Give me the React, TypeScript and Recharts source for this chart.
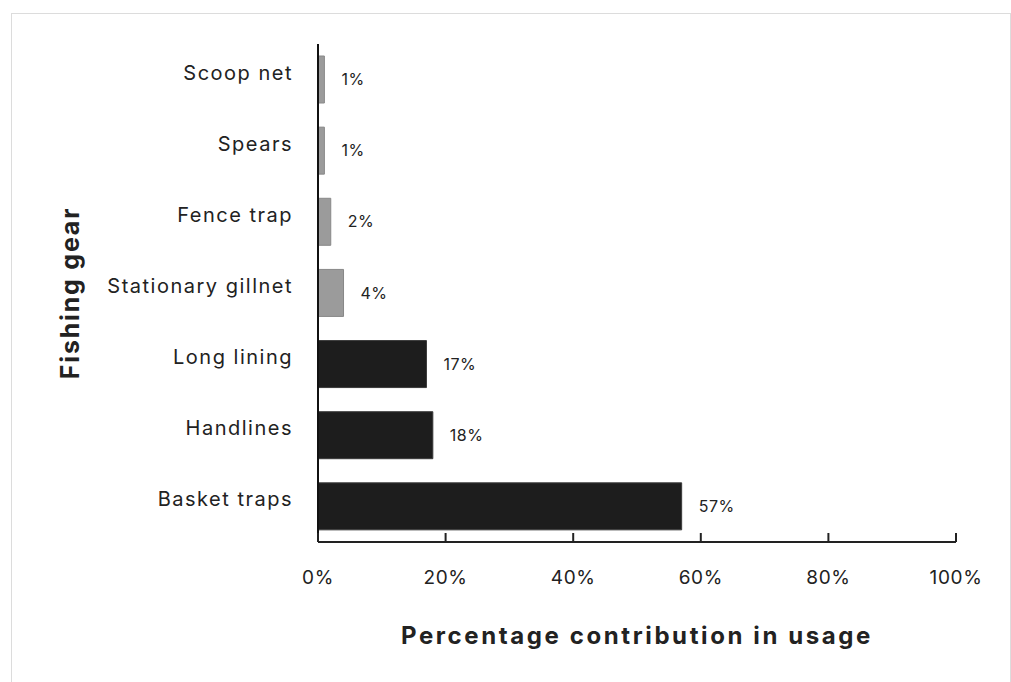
import React from "react"
import { Bar, BarChart, Cell, LabelList, XAxis, YAxis } from "recharts"

const gear = ["Scoop net", "Spears", "Fence trap", "Stationary gillnet", "Long lining", "Handlines", "Basket traps"]
const usage = [1, 1, 2, 4, 17, 18, 57]
const xTicks = [0, 20, 40, 60, 80, 100]

const data = gear.map((name, i) => ({ name, usage: usage[i] }))

const FONT = "Inter, 'DejaVu Sans', sans-serif"

function XTick(props: any) {
    const { x, y, payload } = props
    const m = 28
    return (
        <g>
            <line x1={x} x2={x} y1={y - m} y2={y - m - 9} stroke="#222" strokeWidth={2} />
            <text x={x} y={y} dy={14} textAnchor="middle" fontSize={19} letterSpacing={0.6} fill="#222" fontFamily={FONT}>
                {payload.value}%
            </text>
        </g>
    )
}

function YTick(props: any) {
    const { x, y, payload } = props
    return (
        <text x={x + 1} y={y} textAnchor="end" fontSize={20} letterSpacing={1.5} fill="#222" fontFamily={FONT}>
            {payload.value}
        </text>
    )
}

export default function App() {
    return (
        <div style={{ position: "absolute", left: 0, top: 0, width: 1011, height: 682, background: "#fff" }}>
            <div style={{ position: "absolute", left: 11, top: 13, width: 998, height: 680, border: "1px solid #dcdcdc" }} />
            <BarChart
                width={1011}
                height={682}
                data={data}
                layout="vertical"
                margin={{ top: 44, right: 55, bottom: 30, left: 0 }}
                style={{ position: "absolute", left: 0, top: 0 }}
            >
                <XAxis
                    type="number"
                    domain={[0, 100]}
                    ticks={xTicks}
                    height={110}
                    tickSize={0}
                    tickMargin={28}
                    tickLine={false}
                    tick={<XTick />}
                    axisLine={{ stroke: "#222", strokeWidth: 2 }}
                    label={{
                        value: "Percentage contribution in usage",
                        position: "insideBottom",
                        offset: 8,
                        style: { fontSize: 24, fontWeight: 700, letterSpacing: 2.6, fill: "#222", fontFamily: FONT },
                    }}
                />
                <YAxis
                    type="category"
                    dataKey="name"
                    width={318}
                    tickLine={false}
                    tickSize={0}
                    tickMargin={26}
                    tick={<YTick />}
                    axisLine={{ stroke: "#111", strokeWidth: 2 }}
                    label={{
                        value: "Fishing gear",
                        angle: -90,
                        position: "insideLeft",
                        offset: 70,
                        style: { textAnchor: "middle", fontSize: 25, fontWeight: 700, letterSpacing: 1.8, fill: "#222", fontFamily: FONT },
                    }}
                />
                <Bar dataKey="usage" barSize={47} isAnimationActive={false}>
                    {data.map((d) => (
                        <Cell
                            key={d.name}
                            fill={d.usage < 10 ? "#9b9b9b" : "#1d1d1d"}
                            stroke={d.usage < 10 ? "#888" : "#3a3a3a"}
                        />
                    ))}
                    <LabelList
                        dataKey="usage"
                        position="right"
                        offset={17}
                        formatter={(v: any) => `${v}%`}
                        style={{ fontSize: 16, letterSpacing: 0.5, fill: "#222", fontFamily: FONT }}
                    />
                </Bar>
            </BarChart>
        </div>
    )
}
